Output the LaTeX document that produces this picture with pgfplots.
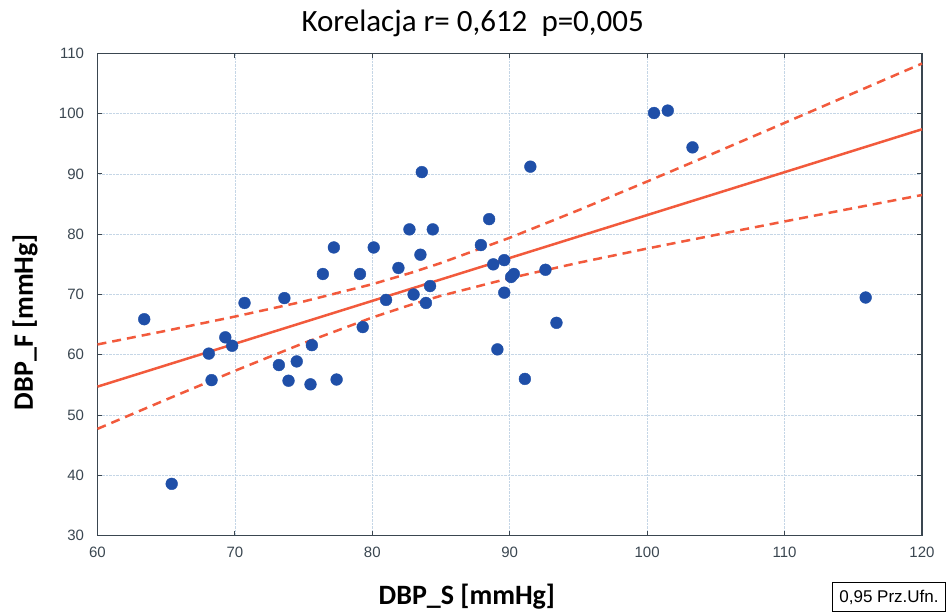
\documentclass[border=0pt]{standalone}
\usepackage{pgfplots}
\pgfplotsset{compat=1.18}
\usepackage{fontspec}
\setmainfont{Carlito}
\newfontfamily\arialf{Liberation Sans}
\definecolor{ptblue}{HTML}{1F4FA8}
\definecolor{regred}{HTML}{F25A3C}
\definecolor{gridc}{HTML}{C5D6E6}
\definecolor{axc}{HTML}{3A4650}
\begin{document}
\begin{tikzpicture}
\useasboundingbox (-97.5pt,-78.3pt) rectangle (850.5pt,535.7pt);
\begin{axis}[
  at={(0,0)}, anchor=south west,
  scale only axis,
  width=824.5pt, height=482.4pt,
  xmin=60, xmax=120, ymin=30, ymax=110,
  xtick={60,70,...,120}, ytick={30,40,...,110},
  grid=major,
  major grid style={gridc, densely dotted, line width=0.8pt},
  axis line style={axc, line width=1.2pt},
  tick style={axc, line width=1pt},
  major tick length=5pt,
  tick align=inside,
  xtick pos=both, ytick pos=both,
  xticklabel pos=left, yticklabel pos=left,
  /pgf/number format/assume math mode=true,
  /pgf/number format/1000 sep={},
  tick label style={font=\arialf\fontsize{15}{15}\selectfont, text=axc},
  xticklabel style={yshift=-8pt},
  yticklabel style={xshift=-10pt},
  clip=false,
]
\addplot[regred, line width=2.5pt] coordinates {(60,54.72) (120,97.40)};
\addplot[regred, line width=2.5pt, dash pattern=on 9pt off 6pt] coordinates {
(60,61.72) (65,63.99) (70,66.34) (75,68.84) (80,71.71) (82.8,73.59) (85,75.23)
(90,79.41) (95,83.98) (100,88.74) (105,93.57) (110,98.46) (115,103.38) (120,108.3)};
\addplot[regred, line width=2.5pt, dash pattern=on 9pt off 6pt] coordinates {
(60,47.72) (65,52.57) (70,57.34) (75,61.94) (80,66.19) (82.8,68.29) (85,69.79)
(90,72.71) (95,75.26) (100,77.62) (105,79.89) (110,82.12) (115,84.32) (120,86.5)};
\addplot[only marks, mark=*, mark size=5.9pt, color=ptblue, mark options={fill=ptblue, draw=ptblue}] coordinates {
(63.4,65.9) (65.4,38.6) (68.1,60.2) (68.3,55.8) (69.3,62.9) (69.8,61.5)
(70.7,68.6) (73.6,69.4) (73.2,58.3) (73.9,55.7) (74.5,58.9) (75.5,55.1)
(75.6,61.6) (76.4,73.4) (77.2,77.8) (77.4,55.9) (79.1,73.4) (79.3,64.6)
(80.1,77.8) (81.0,69.1) (81.9,74.4) (82.7,80.8) (83.0,70.0) (83.6,90.3)
(83.5,76.6) (83.9,68.6) (84.2,71.4) (84.4,80.8) (87.9,78.2) (88.5,82.5)
(88.8,75.0) (89.1,60.9) (89.6,70.3) (89.6,75.7) (90.1,72.9) (90.3,73.4)
(91.1,56.0) (91.5,91.2) (92.6,74.1) (93.4,65.3) (100.5,100.1) (101.5,100.5)
(103.3,94.4) (115.9,69.5)};
\node[font=\fontsize{31}{31}\selectfont, anchor=center] at ([yshift=29.5pt]rel axis cs:0.455,1) {Korelacja r= 0,612\ \ p=0,005};
\node[font=\bfseries\fontsize{28}{28}\selectfont, anchor=center] at ([yshift=-61pt]rel axis cs:0.448,0) {DBP\_S [mmHg]};
\node[font=\bfseries\fontsize{28}{28}\selectfont, anchor=center, rotate=90] at ([xshift=-72.5pt]rel axis cs:0,0.443) {DBP\_F [mmHg]};
\end{axis}
\node[draw=black, line width=1.3pt, font=\arialf\fontsize{17}{17}\selectfont, minimum width=113pt, minimum height=29pt, inner sep=2pt] at (791.5pt,-61.5pt) {0,95 Prz.Ufn.};
\end{tikzpicture}
\end{document}
